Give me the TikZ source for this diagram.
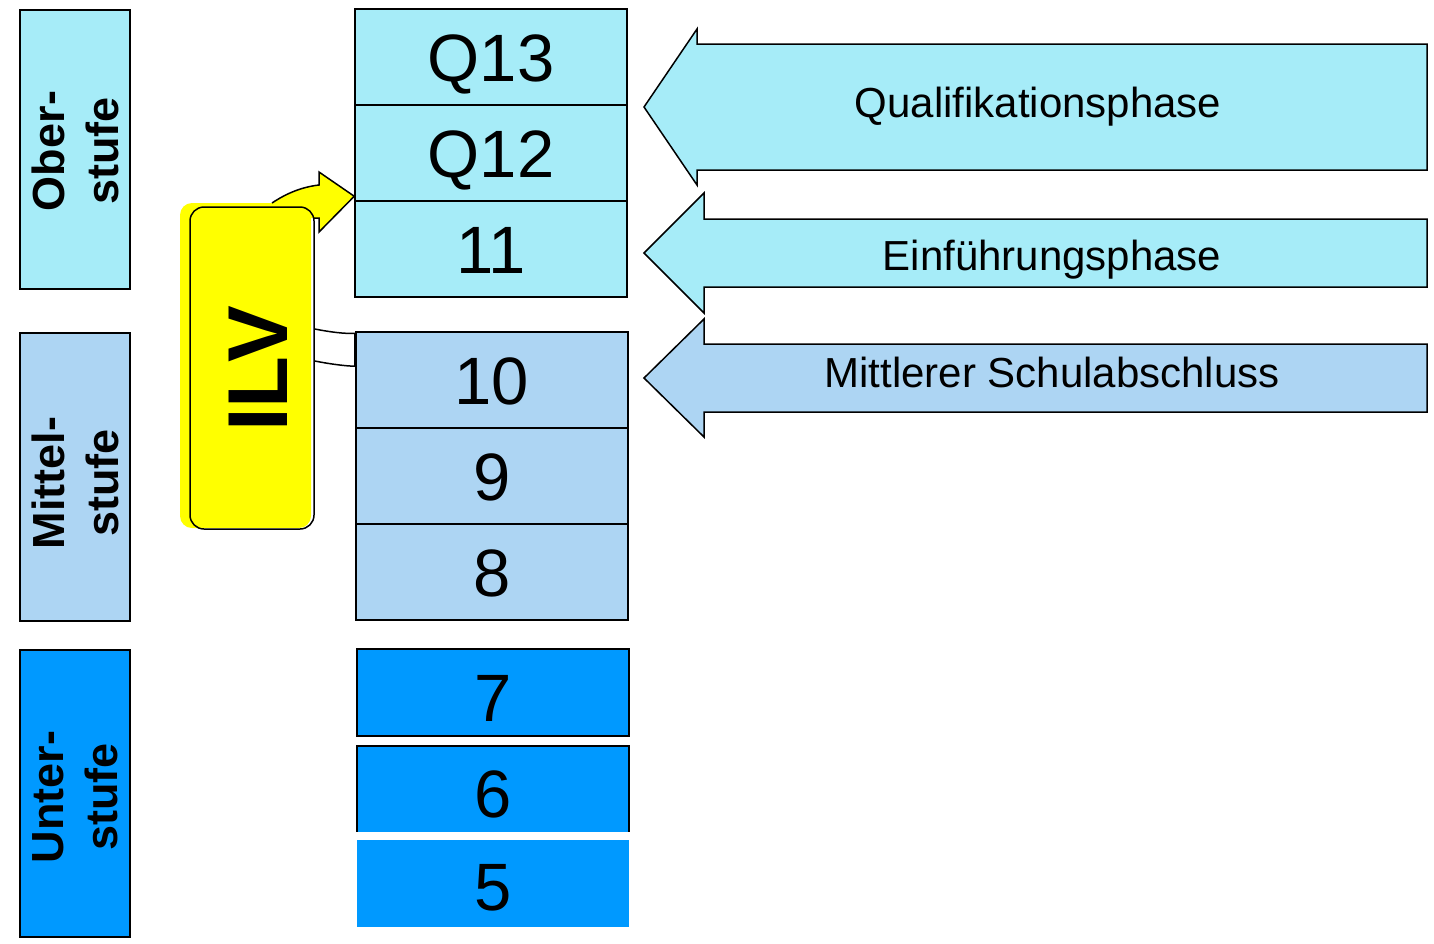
\documentclass[tikz,border=0pt]{standalone}
\usepackage{fontspec}
\setmainfont{Liberation Sans}
\definecolor{ober}{RGB}{166,236,248}
\definecolor{mittel}{RGB}{173,213,243}
\definecolor{unter}{RGB}{0,153,255}
\definecolor{ilvyellow}{RGB}{255,255,0}
\tikzset{
  gbox/.style={draw=black, line width=1.5pt, minimum width=272pt, minimum height=96pt, inner sep=0pt, text height=48pt, text depth=0pt, font=\fontsize{67}{67}\selectfont},
  lbox/.style={draw=black, line width=1.5pt, minimum width=110pt, inner sep=0pt},
  ltext/.style={rotate=90, align=center, inner sep=0pt, font=\fontsize{45}{54}\selectfont\bfseries},
  barrow/.style={draw=black, line width=1.5pt, line join=miter},
  atext/.style={anchor=base, inner sep=0pt, font=\fontsize{42}{42}\selectfont},
}
\begin{document}
\begin{tikzpicture}[x=1pt,y=-1pt]
\useasboundingbox (0,0) rectangle (1434,943);
% left level boxes
\node[lbox, fill=ober, minimum height=279pt] (ob) at (75,149.5) {};
\node[ltext] (obt) at (75,151) {Ober-\\stufe};
\node[lbox, fill=mittel, minimum height=288pt] (mi) at (75,477) {};
\node[ltext] (mit) at (75,483) {Mittel-\\stufe};
\node[lbox, fill=unter, minimum height=287pt] (un) at (75,793.5) {};
\node[ltext] (unt) at (75,797) {Unter-\\stufe};
% grade boxes
\node[gbox, fill=ober] (q13) at (491,57) {Q13};
\node[gbox, fill=ober] (q12) at (491,153) {Q12};
\node[gbox, fill=ober] (g11) at (491,249) {11};
\node[gbox, fill=mittel] (g10) at (492,380) {10};
\node[gbox, fill=mittel] (g9) at (492,476) {9};
\node[gbox, fill=mittel] (g8) at (492,572) {8};
\node[gbox, fill=unter, minimum height=87pt] (g7) at (493,692.5) {\raisebox{-4.5pt}{7}};
\node[gbox, fill=unter, minimum height=87pt] (g6) at (493,789.5) {\raisebox{-4pt}{6}};
\node[gbox, fill=unter, draw=none, minimum height=87pt] (g5) at (493,883.5) {\raisebox{-3pt}{5}};
\fill[white] ([yshift=2pt]g6.south west) rectangle ([yshift=1pt]g5.north east);
% block arrows
\draw[barrow, fill=ober] (1427,44) -- (697,44) -- (697,29) -- (644,107) -- (697,185) -- (697,170) -- (1427,170) -- cycle;
\node[atext] (qp) at (1038,117) {Qualifikationsphase};
\draw[barrow, fill=ober] (1427,219) -- (704,219) -- (704,193) -- (644,253) -- (704,313) -- (704,287) -- (1427,287) -- cycle;
\node[atext] (ep) at (1052,270) {Einführungsphase};
\draw[barrow, fill=mittel] (1427,344) -- (704,344) -- (704,319) -- (644,378) -- (704,437) -- (704,412) -- (1427,412) -- cycle;
\node[atext] (ms) at (1052,387) {Mittlerer Schulabschluss};
% ILV
\fill[ilvyellow, rounded corners=12pt] (180,203) rectangle (311,528);
\coordinate (tip) at ([yshift=4pt]g11.north west);
\fill[ilvyellow] (272,203) .. controls (287,193) and (302,187) .. (319,185) -- (319,172) -- (tip) -- (319,232) -- (319,218) -- (300,218) -- (300,210) -- cycle;
\draw[line width=1.5pt, line join=miter] (272,203) .. controls (287,193) and (302,187) .. (319,185) -- (319,172) -- (tip) -- (319,232) -- (319,218) -- (313,218);
\node[draw=black, line width=1.5pt, rounded corners=14pt, minimum width=124pt, minimum height=322pt, inner sep=0pt] (ilv) at (252,368) {};
\node[rotate=90, inner sep=0pt, font=\fontsize{85}{85}\selectfont\bfseries] (ilvt) at (258,369) {ILV};
% connector to grade 10
\coordinate (c1) at ([yshift=-2pt]g10.north west);
\coordinate (c2) at ([yshift=-35pt]g10.north west);
\draw[line width=1.5pt] (ilv.east |- 0,329) .. controls (330,332) and (345,334) .. (c1);
\draw[line width=1.5pt] (ilv.east |- 0,361) .. controls (330,364) and (345,366) .. (c2);
\draw[line width=2.5pt] (c1) -- (c2);
\end{tikzpicture}
\end{document}
